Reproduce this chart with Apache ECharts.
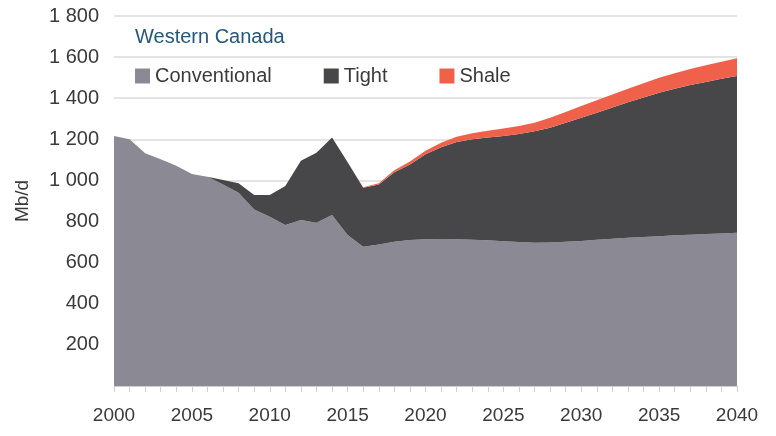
<!DOCTYPE html>
<html>
<head>
<meta charset="utf-8">
<script src="https://cdn.jsdelivr.net/npm/echarts@6/dist/echarts.min.js"></script>
<style>
html,body{margin:0;padding:0;background:#fff;}
#chart{width:776px;height:436px;}
</style>
</head>
<body>
<div id="chart"></div>
<script>
const years = [];
for (let y = 2000; y <= 2040; y++) years.push(String(y));

const conventional = [1216,1200,1132,1103,1072,1031,1018,980,940,859,823,783,807,794,832,734,678,688,702,710,714,715,714,712,709,704,700,697,698,702,706,711,716,721,725,729,733,736,739,742,746];
const tight = [0,0,0,0,0,0,0,22,46,70,106,190,289,341,377,354,286,292,338,368,413,446,473,488,500,512,526,542,558,579,599,618,639,659,679,698,713,728,740,753,762];
const shale = [0,0,0,0,0,0,0,0,0,0,0,0,0,0,0,0,3,6,10,14,18,22,25,29,33,37,39,42,49,52,57,61,63,66,69,72,75,78,81,83,86];

const yTicks = [200,400,600,800,1000,1200,1400,1600,1800];

const FONT = 'Liberation Sans';
const chart = echarts.init(document.getElementById('chart'), null, {renderer:'canvas'});
chart.setOption({
  animation: false,
  backgroundColor: '#fff',
  textStyle: {fontFamily: FONT},
  title: {
    text: 'Western Canada',
    left: 135, top: 27, padding: 0,
    textStyle: {fontFamily: FONT, fontSize: 20, fontWeight: 'normal', color: '#24577d'}
  },
  legend: {
    left: 135, top: 66, padding: 0,
    icon: 'rect', itemWidth: 15, itemHeight: 15, itemGap: 52,
    textStyle: {fontFamily: FONT, fontSize: 20, color: '#3a3a3a'},
    data: ['Conventional','Tight','Shale']
  },
  grid: {left: 114, right: 39, top: 16, bottom: 50, containLabel: false},
  xAxis: {
    type: 'category', data: years, boundaryGap: false,
    axisLine: {show: true, lineStyle: {color: '#d0d0d0', width: 1}},
    axisTick: {show: true, interval: 0, length: 6, lineStyle: {color: '#d0d0d0'}},
    axisLabel: {interval: 4, margin: 20, fontSize: 19, color: '#3a3a3a', fontFamily: FONT}
  },
  yAxis: {
    type: 'value', min: 0, max: 1800, interval: 200,
    name: 'Mb/d', nameLocation: 'middle', nameGap: 82, nameRotate: 90,
    nameTextStyle: {fontSize: 19, color: '#3a3a3a', fontFamily: FONT},
    axisLine: {show: false}, axisTick: {show: false},
    splitLine: {lineStyle: {color: '#e4e4e4', width: 2}},
    axisLabel: {
      fontSize: 20, color: '#3a3a3a', margin: 15, fontFamily: FONT,
      formatter: function (v) {
        if (yTicks.indexOf(v) < 0) return '';
        return String(v).replace(/\B(?=(\d{3})+(?!\d))/g, ' ');
      }
    }
  },
  series: [
    {name: 'Conventional', type: 'line', stack: 'total', data: conventional, showSymbol: false,
     lineStyle: {width: 0}, itemStyle: {color: '#8b8a94'}, areaStyle: {color: '#8b8a94', opacity: 1}},
    {name: 'Tight', type: 'line', stack: 'total', data: tight, showSymbol: false,
     lineStyle: {width: 0}, itemStyle: {color: '#474649'}, areaStyle: {color: '#474649', opacity: 1}},
    {name: 'Shale', type: 'line', stack: 'total', data: shale, showSymbol: false,
     lineStyle: {width: 0}, itemStyle: {color: '#ef614a'}, areaStyle: {color: '#ef614a', opacity: 1}}
  ]
});
</script>
</body>
</html>
